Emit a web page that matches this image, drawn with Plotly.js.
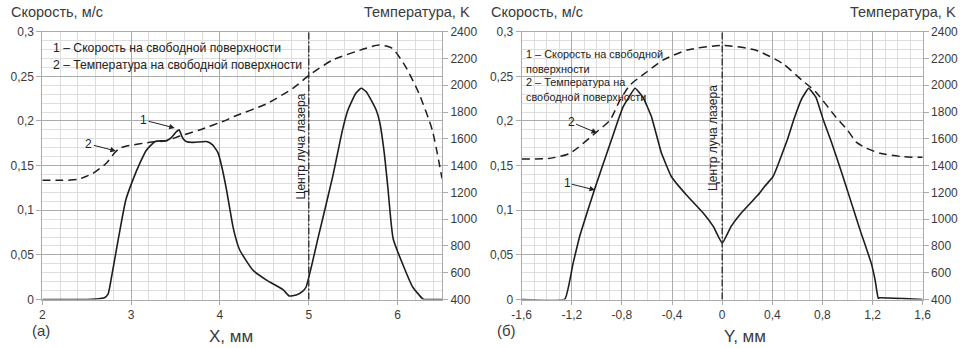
<!DOCTYPE html>
<html>
<head>
<meta charset="utf-8">
<script src="https://cdn.plot.ly/plotly-3.0.1.min.js"></script>
<style>html,body{margin:0;padding:0;background:#fff;}#chart{width:965px;height:348px;}</style>
</head>
<body>
<div id="chart"></div>
<script>
// ---- Panel (а): along X ----
const xA = [2, 2.5, 2.6, 2.7, 2.74, 2.78, 2.854, 2.94, 3.02, 3.10, 3.17, 3.27, 3.40, 3.45, 3.51, 3.54, 3.58, 3.62, 3.70, 3.85, 3.92, 3.98, 4.02, 4.07, 4.10, 4.15, 4.22, 4.37, 4.52, 4.71, 4.78, 4.86, 4.93, 4.97, 5.03, 5.10, 5.27, 5.38, 5.44, 5.53, 5.59, 5.645, 5.76, 5.80, 5.85, 5.89, 5.95, 6.06, 6.17, 6.28, 6.3, 6.5];
const speedA = [0, 0, 0.0005, 0.002, 0.006, 0.0255, 0.0667, 0.1115, 0.134, 0.153, 0.167, 0.177, 0.178, 0.181, 0.188, 0.190, 0.181, 0.177, 0.176, 0.177, 0.173, 0.164, 0.149, 0.125, 0.108, 0.080, 0.056, 0.033, 0.022, 0.011, 0.004, 0.005, 0.009, 0.014, 0.037, 0.067, 0.138, 0.190, 0.212, 0.231, 0.2366, 0.233, 0.212, 0.198, 0.164, 0.126, 0.068, 0.039, 0.014, 0.001, 0, 0];
const xTA = [2, 2.2, 2.4, 2.57, 2.72, 2.81, 2.87, 2.95, 3.21, 3.40, 3.55, 3.77, 4.07, 4.15, 4.52, 4.82, 5.01, 5.27, 5.645, 5.79, 5.94, 6.09, 6.24, 6.39, 6.5];
const tempA = [1290, 1290, 1297, 1342, 1417, 1492, 1529, 1546, 1574, 1586, 1621, 1666, 1740, 1765, 1860, 1977, 2077, 2189, 2276, 2300, 2276, 2139, 1940, 1666, 1305];
const laserA = 5;
const ticksA = [2, 3, 4, 5, 6];
const tickTextA = ['2', '3', '4', '5', '6'];

// ---- Panel (б): along Y ----
const xB = [-1.6, -1.255, -1.19, -1.135, -1.015, -0.92, -0.83, -0.79, -0.695, -0.63, -0.565, -0.52, -0.485, -0.405, -0.285, -0.15, -0.07, 0, 0.07, 0.15, 0.285, 0.335, 0.405, 0.44, 0.52, 0.57, 0.635, 0.69, 0.75, 0.807, 0.87, 0.94, 1.02, 1.10, 1.19, 1.22, 1.245, 1.255, 1.45, 1.6];
const speedB = [0, 0.0005, 0.0405, 0.072, 0.125, 0.164, 0.201, 0.216, 0.2366, 0.226, 0.205, 0.182, 0.164, 0.1375, 0.117, 0.0966, 0.0816, 0.063, 0.0816, 0.0966, 0.117, 0.126, 0.1375, 0.149, 0.179, 0.201, 0.225, 0.2366, 0.226, 0.201, 0.177, 0.148, 0.113, 0.078, 0.0405, 0.022, 0.0013, 0.002, 0.001, 0];
const xTB = [-1.6, -1.375, -1.215, -1.0, -0.895, -0.815, -0.735, -0.60, -0.47, -0.28, 0, 0.265, 0.48, 0.635, 0.745, 0.905, 1.0, 1.07, 1.15, 1.26, 1.445, 1.6];
const tempB = [1449, 1454, 1492, 1653, 1740, 1890, 2002, 2101, 2189, 2263, 2298, 2263, 2164, 2039, 1952, 1765, 1665, 1575, 1530, 1492, 1466, 1462];
const laserB = 0;
const ticksB = [-1.6, -1.2, -0.8, -0.4, 0, 0.4, 0.8, 1.2, 1.6];
const tickTextB = ['-1,6', '-1,2', '-0,8', '-0,4', '0', '0,4', '0,8', '1,2', '1,6'];

const speedRange = [0, 0.3];
const tempRange = [400, 2400];

const FONT = '"Liberation Sans", Arial, sans-serif';
const TXT = '#3a3a3a';
const MAJ = '#ababab';
const MIN = '#dedede';

const solidA = {color: '#1e1e1e', width: 1.6, shape: 'spline', smoothing: 0.5};
const solidB = {color: '#1e1e1e', width: 1.6, shape: 'spline', smoothing: 0.3};
const dashed = {color: '#1e1e1e', width: 1.5, dash: '8px,5px', shape: 'spline', smoothing: 0.6};
const dashdot = {color: '#333', width: 1.4, dash: '7px,2px,2px,2px'};

const traces = [
  {x: xA, y: speedA, xaxis: 'x', yaxis: 'y', mode: 'lines', line: solidA},
  {x: xTA, y: tempA, xaxis: 'x', yaxis: 'y2', mode: 'lines', line: dashed},
  {x: [laserA, laserA], y: speedRange, xaxis: 'x', yaxis: 'y', mode: 'lines', line: dashdot},
  {x: xB, y: speedB, xaxis: 'x2', yaxis: 'y3', mode: 'lines', line: solidB},
  {x: xTB, y: tempB, xaxis: 'x2', yaxis: 'y4', mode: 'lines', line: dashed},
  {x: [laserB, laserB], y: speedRange, xaxis: 'x2', yaxis: 'y3', mode: 'lines', line: dashdot}
];

const yDom = [(348 - 299.5) / 348, (348 - 31.7) / 348];
const tickF = {family: FONT, size: 12, color: TXT};

function xAx(domain, range, tv, tt, minor, anchor) {
  return {domain, range, tickmode: 'array', tickvals: tv, ticktext: tt, anchor, showgrid: true, gridcolor: MAJ, gridwidth: 1,
    minor: {tickmode: 'linear', tick0: range[0], dtick: minor, showgrid: true, gridcolor: MIN, gridwidth: 1, ticks: ''},
    showline: true, linecolor: MAJ, linewidth: 1, mirror: true, ticks: 'outside', ticklen: 4, tickcolor: MAJ,
    zeroline: false, tickfont: tickF, fixedrange: true};
}
function yAx(anchor) {
  return {domain: yDom, range: speedRange, dtick: 0.05, tick0: 0, anchor, showgrid: true, gridcolor: MAJ,
    minor: {dtick: 0.01, showgrid: true, gridcolor: MIN, ticks: ''},
    showline: true, linecolor: MAJ, ticks: 'outside', ticklen: 5, tickcolor: MAJ, zeroline: false, tickfont: tickF};
}
function y2Ax(anchor, overlay) {
  return {domain: yDom, range: tempRange, dtick: 200, tick0: 400, anchor, overlaying: overlay, side: 'right',
    showgrid: false, showline: true, linecolor: MAJ, ticks: 'outside', ticklen: 5, tickcolor: MAJ, zeroline: false, tickfont: tickF};
}

function pxA(px) { return 2 + (px - 42.3) / 89; }
function pyS(py) { return (299.5 - py) / 892.7; }
function pxB(px) { return -1.6 + (px - 521.7) / 125.3; }

const ann = [];
function paperText(text, x, y, size, anchor) {
  ann.push({text, xref: 'paper', yref: 'paper', x: x / 965, y: 1 - y / 348, xanchor: anchor || 'left', yanchor: 'middle',
    showarrow: false, font: {family: FONT, size, color: TXT}});
}
paperText('Скорость, м/с', 9, 12, 14.5);
paperText('Температура, K', 472, 12, 14.5, 'right');
paperText('Скорость, м/с', 489, 12, 14.5);
paperText('Температура, K', 958, 12, 14.5, 'right');
paperText('(а)', 41, 330, 15, 'center');
paperText('X, мм', 231, 336, 17, 'center');
paperText('(б)', 507, 330, 15, 'center');
paperText('Y, мм', 745, 336, 17, 'center');

function dataText(text, xref, yref, x, y, size) {
  ann.push({text, xref, yref, x, y, xanchor: 'left', yanchor: 'middle', showarrow: false, font: {family: FONT, size, color: '#222'}});
}
dataText('1 – Скорость на свободной поверхности', 'x', 'y', pxA(51), pyS(48), 12.2);
dataText('2 – Температура на свободной поверхности', 'x', 'y', pxA(51), pyS(65), 12.2);
dataText('1 – Скорость на свободной', 'x2', 'y3', pxB(524), pyS(54), 10.9);
dataText('поверхности', 'x2', 'y3', pxB(524), pyS(69), 10.9);
dataText('2 – Температура на', 'x2', 'y3', pxB(524), pyS(82), 10.9);
dataText('свободной поверхности', 'x2', 'y3', pxB(524), pyS(97), 10.9);

function vText(xref, yref, x, y) {
  ann.push({text: 'Центр луча лазера', xref, yref, x, y, textangle: -90, showarrow: false, xanchor: 'center', yanchor: 'middle',
    font: {family: FONT, size: 12, color: '#222'}});
}
vText('x', 'y', pxA(302), pyS(146));
vText('x2', 'y3', pxB(713), pyS(138));

function arrow(text, xref, yref, x, y, ax, ay) {
  ann.push({text, xref, yref, x, y, ax, ay, showarrow: true, arrowhead: 2, arrowsize: 1.1, arrowwidth: 1, arrowcolor: '#222',
    standoff: 0, font: {family: FONT, size: 12, color: '#222'}});
}
arrow('1', 'x', 'y', pxA(175), pyS(128), -31, -8);
arrow('2', 'x', 'y', pxA(116), pyS(151), -27, -7);
arrow('2', 'x2', 'y3', pxB(597), pyS(133), -26, -11);
arrow('1', 'x2', 'y3', pxB(595), pyS(190), -28, -7);

const layout = {
  width: 965, height: 348, margin: {l: 0, r: 0, t: 0, b: 0}, showlegend: false,
  paper_bgcolor: '#fff', plot_bgcolor: '#fff', separators: ', ',
  font: {family: FONT, color: TXT},
  xaxis: xAx([42.3 / 965, 442 / 965], [2, 6.5], ticksA, tickTextA, 0.2, 'y'),
  xaxis2: xAx([521.7 / 965, 922.7 / 965], [-1.6, 1.6], ticksB, tickTextB, 0.1, 'y3'),
  yaxis: yAx('x'),
  yaxis2: y2Ax('x', 'y'),
  yaxis3: yAx('x2'),
  yaxis4: y2Ax('x2', 'y3'),
  annotations: ann
};

Plotly.newPlot('chart', traces, layout, {staticPlot: true});
</script>
</body>
</html>
